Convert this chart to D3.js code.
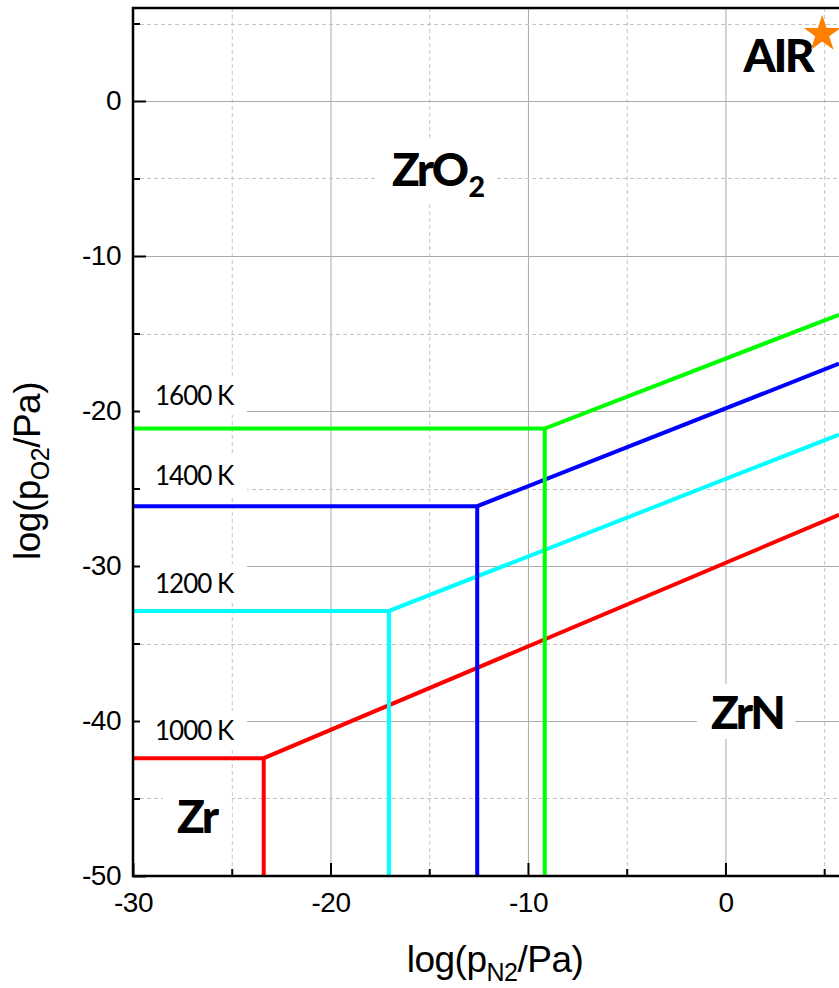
<!DOCTYPE html>
<html>
<head>
<meta charset="utf-8">
<script src="https://cdn.jsdelivr.net/npm/d3@7"></script>
<style>
  body { margin: 0; background: #fff; }
</style>
</head>
<body>
<div id="chart"></div>
<script>
// values
var temps = ["1000 K", "1200 K", "1400 K", "1600 K"];
var colors = ["#ff0000", "#00ffff", "#0000ff", "#00ff00"];
var triplePN2 = [-23.38, -17.04, -12.57, -9.15];   // corner Zr/ZrN/ZrO2
var triplePO2 = [-42.4, -32.9, -26.14, -21.13];
var edgePN2 = 5.75;                                  // last visible point
var edgePO2 = [-26.7, -21.52, -16.95, -13.79];
var xMajor = [-30, -20, -10, 0];
var xMinor = [-25, -15, -5, 5];
var yMajor = [0, -10, -20, -30, -40, -50];
var yMinor = [5, -5, -15, -25, -35, -45];
var airPN2 = 4.9, airPO2 = 4.32;

var width = 839, height = 988;
var mLeft = 133, mRight = 839, mTop = 8, mBottom = 876;

var svg = d3.select("#chart")
    .append("svg")
    .attr("width", width)
    .attr("height", height);

var x = d3.scaleLinear().domain([-30, edgePN2]).range([mLeft, mRight]);
var y = d3.scaleLinear().domain([-50, 6]).range([mBottom, mTop]);

svg.append("defs").append("clipPath").attr("id", "plot")
    .append("rect")
    .attr("x", mLeft).attr("y", mTop)
    .attr("width", mRight - mLeft).attr("height", mBottom - mTop);

// grid
var grid = svg.append("g");
grid.selectAll(".vmaj").data(xMajor.slice(1)).enter().append("line")
    .attr("x1", function (d) { return x(d) + 0.5; }).attr("x2", function (d) { return x(d) + 0.5; })
    .attr("y1", mTop).attr("y2", mBottom)
    .attr("stroke", "#aaa").attr("stroke-width", 1);
grid.selectAll(".vmin").data(xMinor).enter().append("line")
    .attr("x1", function (d) { return x(d) + 0.5; }).attr("x2", function (d) { return x(d) + 0.5; })
    .attr("y1", mTop).attr("y2", mBottom)
    .attr("stroke", "#c4c4c4").attr("stroke-dasharray", "4,3");
grid.selectAll(".hmaj").data(yMajor.slice(0, -1)).enter().append("line")
    .attr("x1", mLeft).attr("x2", mRight)
    .attr("y1", function (d) { return Math.round(y(d)) + 0.5; }).attr("y2", function (d) { return Math.round(y(d)) + 0.5; })
    .attr("stroke", "#aaa").attr("stroke-width", 1);
grid.selectAll(".hmin").data(yMinor).enter().append("line")
    .attr("x1", mLeft).attr("x2", mRight)
    .attr("y1", function (d) { return Math.round(y(d)) + 0.5; }).attr("y2", function (d) { return Math.round(y(d)) + 0.5; })
    .attr("stroke", "#c4c4c4").attr("stroke-dasharray", "4,3");

// axes (ticks pointing inward)
var fmt = function (d) { return String(d); };
svg.append("g").attr("transform", "translate(0," + mBottom + ")")
    .call(d3.axisBottom(x).tickValues(xMajor).tickFormat(fmt)
        .tickSizeInner(-13).tickSizeOuter(0).tickPadding(16));
svg.append("g").attr("transform", "translate(0," + mBottom + ")")
    .call(d3.axisBottom(x).tickValues(xMinor).tickFormat("").tickSizeInner(-7).tickSizeOuter(0));
svg.append("g").attr("transform", "translate(" + mLeft + ",0)")
    .call(d3.axisLeft(y).tickValues(yMajor).tickFormat(fmt)
        .tickSizeInner(-13).tickSizeOuter(0).tickPadding(12));
svg.append("g").attr("transform", "translate(" + mLeft + ",0)")
    .call(d3.axisLeft(y).tickValues(yMinor).tickFormat("").tickSizeInner(-7).tickSizeOuter(0));
svg.selectAll(".domain").remove();
svg.selectAll(".tick line").attr("stroke", "#000").attr("stroke-width", 2);
svg.selectAll(".tick text")
    .attr("font-family", "'Liberation Sans', Arial, sans-serif")
    .attr("font-size", 28)
    .attr("letter-spacing", -0.5)
    .attr("fill", "#000");

// labels with white boxes over the grid
function boxedText(g, tx, padL, padR, padT, padB) {
    var b = tx.node().getBBox();
    g.insert("rect", "text")
        .attr("x", b.x - padL).attr("y", b.y - padT)
        .attr("width", b.width + padL + padR).attr("height", b.height + padT + padB)
        .attr("fill", "#fff");
}

var labels = svg.append("g");
var tempPos = [740, 593, 485, 405];
temps.forEach(function (t, i) {
    var g = labels.append("g");
    var tx = g.append("text")
        .attr("x", 155).attr("y", tempPos[i])
        .attr("font-family", "Lato, 'Open Sans', sans-serif")
        .attr("font-size", 26)
        .attr("letter-spacing", -1)
        .text(t);
    boxedText(g, tx, 15, 12, 3, 4);
});

function region(px, py, main, sub, size) {
    var g = labels.append("g");
    var tx = g.append("text")
        .attr("x", px).attr("y", py)
        .attr("font-family", "Lato, 'Open Sans', sans-serif")
        .attr("font-weight", 900)
        .attr("font-size", size)
        .attr("letter-spacing", -2.5)
        .text(main);
    if (sub) {
        tx.append("tspan").attr("font-size", size * 0.62).attr("dy", 11).attr("dx", 2).text(sub);
    }
    boxedText(g, tx, 14, 12, 0, 0);
    return g;
}
region(392, 186, "ZrO", "2", 46);
region(711, 729, "ZrN", null, 46);
region(177, 833, "Zr", null, 46);

// boundary lines
var line = d3.line()
    .x(function (d) { return x(d[0]); })
    .y(function (d) { return y(d[1]); });

var lines = svg.append("g").attr("clip-path", "url(#plot)");
temps.forEach(function (t, i) {
    lines.append("path")
        .attr("d", line([[-30, triplePO2[i]], [triplePN2[i], triplePO2[i]], [edgePN2, edgePO2[i]]]))
        .attr("fill", "none").attr("stroke", colors[i]).attr("stroke-width", 4);
    lines.append("path")
        .attr("d", line([[triplePN2[i], triplePO2[i]], [triplePN2[i], -50]]))
        .attr("fill", "none").attr("stroke", colors[i]).attr("stroke-width", 4);
});

// air point
svg.append("text")
    .attr("x", x(airPN2) - 10).attr("y", 72)
    .attr("text-anchor", "end")
    .attr("font-family", "Lato, 'Open Sans', sans-serif")
    .attr("font-weight", 900)
    .attr("font-size", 46)
    .attr("letter-spacing", -2.5)
    .text("AIR");
svg.append("path")
    .attr("transform", "translate(" + x(airPN2) + "," + y(airPO2) + ")")
    .attr("d", d3.symbol().type(d3.symbolStar).size(420)())
    .attr("fill", "#ff8000");

// frame
svg.append("path")
    .attr("d", "M" + mRight + "," + mTop + "H" + mLeft + "V" + mBottom + "H" + mRight)
    .attr("fill", "none").attr("stroke", "#000").attr("stroke-width", 2.5);

// axis titles
var yt = svg.append("text")
    .attr("transform", "translate(40,471) rotate(-90)")
    .attr("text-anchor", "middle")
    .attr("font-family", "'Liberation Sans', Arial, sans-serif")
    .attr("font-size", 37)
    .attr("letter-spacing", -0.5);
yt.append("tspan").text("log(p");
yt.append("tspan").attr("font-size", 25).attr("dy", 9).text("O2");
yt.append("tspan").attr("dy", -9).text("/Pa)");

var xt = svg.append("text")
    .attr("x", 495).attr("y", 972)
    .attr("text-anchor", "middle")
    .attr("font-family", "'Liberation Sans', Arial, sans-serif")
    .attr("font-size", 37)
    .attr("letter-spacing", -0.5);
xt.append("tspan").text("log(p");
xt.append("tspan").attr("font-size", 25).attr("dy", 9).text("N2");
xt.append("tspan").attr("dy", -9).text("/Pa)");
</script>
</body>
</html>
